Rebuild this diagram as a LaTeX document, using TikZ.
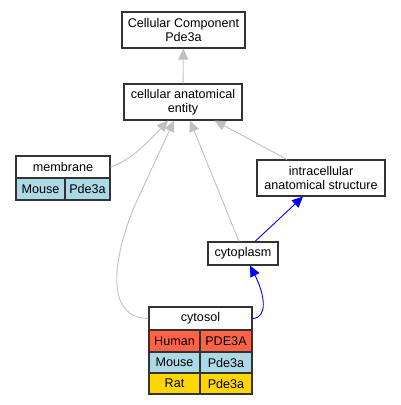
\documentclass[tikz,border=0pt]{standalone}
\usepackage{fontspec}
\setmainfont{Liberation Sans}
\usetikzlibrary{arrows.meta,calc}
\definecolor{edgegray}{HTML}{C0C0C0}
\definecolor{human}{HTML}{FF6347}
\definecolor{mouse}{HTML}{ADD8E6}
\definecolor{rat}{HTML}{FFD700}
\begin{document}
\begin{tikzpicture}[x=1pt,y=-1pt,
  box/.style={draw=black!80, line width=1.1pt, fill=white, inner sep=0pt, align=center,
    font=\fontsize{12.6}{14}\selectfont},
  cell/.style={draw=black!80, line width=1.1pt, inner sep=0pt, align=center,
    font=\fontsize{12.6}{14}\selectfont},
  grayedge/.style={draw=edgegray, line width=0.9pt, -{Triangle[length=11pt,width=10pt]}},
  blueedge/.style={draw=blue, line width=0.9pt, -{Triangle[length=11pt,width=10pt]}}]
\useasboundingbox (0,0) rectangle (401,405);

% main nodes
\node[box, minimum width=123pt, minimum height=36pt] (cc) at (183.5,30) {Cellular Component\\Pde3a};
\node[box, minimum width=118pt, minimum height=36pt] (cae) at (183,102) {cellular anatomical\\entity};
\node[box, minimum width=128pt, minimum height=36pt] (ias) at (321,178) {intracellular\\anatomical structure};
\node[box, minimum width=70pt, minimum height=23pt] (cyto) at (243,253.5) {cytoplasm};

% membrane table
\node[cell, fill=white, minimum width=94pt, minimum height=22pt] (memh) at (63,167) {membrane};
\node[cell, fill=mouse, minimum width=49pt, minimum height=22pt] (memsp) at (40.5,189) {Mouse};
\node[cell, fill=mouse, minimum width=45pt, minimum height=22pt] (memg) at (87.5,189) {Pde3a};

% cytosol table
\node[cell, fill=white, minimum width=103pt, minimum height=23pt] (cyh) at (200.5,318.5) {cytosol};
\node[cell, fill=human, minimum width=51pt, minimum height=22pt] (cyhs) at (174.5,341) {Human};
\node[cell, fill=human, minimum width=52pt, minimum height=22pt] (cyhg) at (226,341) {PDE3A};
\node[cell, fill=mouse, minimum width=51pt, minimum height=21pt] (cyms) at (174.5,362.5) {Mouse};
\node[cell, fill=mouse, minimum width=52pt, minimum height=21pt] (cymg) at (226,362.5) {Pde3a};
\node[cell, fill=rat, minimum width=51pt, minimum height=21pt] (cyrs) at (174.5,383.5) {Rat};
\node[cell, fill=rat, minimum width=52pt, minimum height=21pt] (cyrg) at (226,383.5) {Pde3a};

% edges
\draw[grayedge] (cae) -- (cc);
\draw[grayedge] (memh.east) .. controls (132,160) and (150,140) .. ($(cae.south)+(-15,0)$);
\draw[grayedge] (cyh.west) .. controls (105,318) and (112,260) .. (135,205) -- ($(cae.south)+(-9,0)$);
\draw[grayedge] ($(cyto.north)+(-4,0)$) -- ($(cae.south)+(7,0)$);
\draw[grayedge] ($(ias.north)+(-34,0)$) -- ($(cae.south east)+(-28,0)$);
\draw[blueedge] ($(cyto.north)+(12,0)$) -- ($(ias.south)+(-18,0)$);
\draw[blueedge] (cyh.east) .. controls (268,318) and (265,295) .. ($(cyto.south)+(7,0)$);
\end{tikzpicture}
\end{document}
